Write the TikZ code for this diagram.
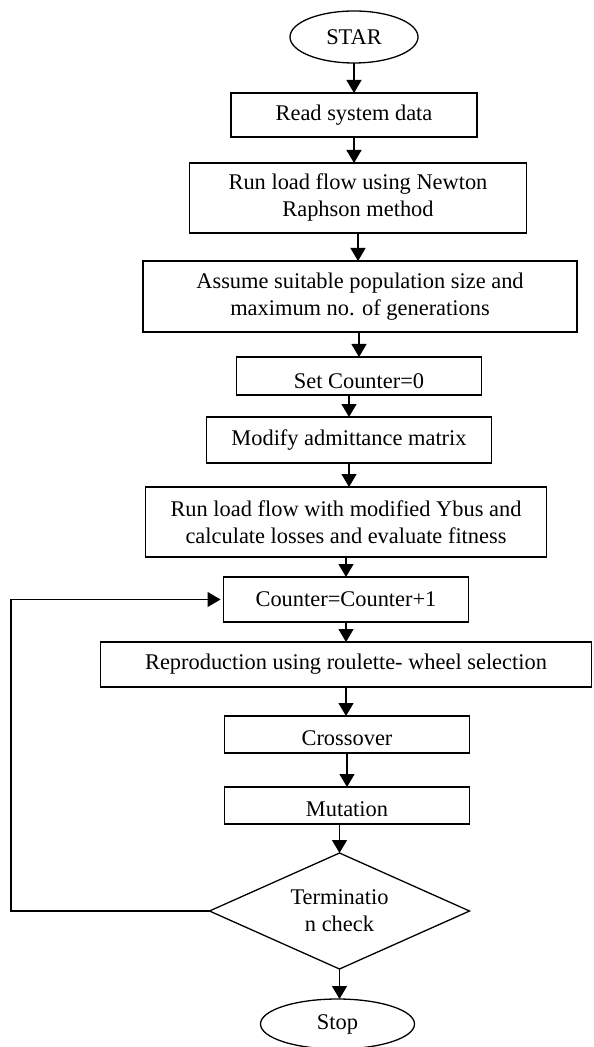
\documentclass[tikz,border=0pt]{standalone}
\usepackage{fontspec}
\setmainfont{Liberation Serif}
\usetikzlibrary{positioning, arrows.meta, shapes.geometric}

\begin{document}
\begin{tikzpicture}[
  node distance=13pt,
  box/.style={draw, line width=0.65pt, inner sep=1pt, outer sep=0pt, minimum width=122.5pt, minimum height=22.5pt, align=center, font=\fontsize{11.2}{13.5}\selectfont},
  term/.style={box, ellipse, minimum width=64pt, minimum height=26pt},
  check/.style={box, diamond, aspect=2.2, inner sep=0pt, minimum width=130pt, minimum height=58pt},
  arr/.style={-{Triangle[length=6.5pt, width=7.5pt]}, line width=0.65pt}
]
\useasboundingbox (0,0) rectangle (296.5pt,-523.5pt);
\node[term] (star) at (177pt,-18.5pt) {STAR};
\node[box, below=15pt of star, minimum width=123pt, minimum height=22pt] (read) {Read system data};
\node[box, below=13pt of read, xshift=2pt, minimum width=168.5pt, minimum height=35pt] (nr) {Run load flow using Newton\\Raphson method};
\node[box, below=14pt of nr, xshift=1pt, minimum width=217pt, minimum height=35.5pt] (pop) {Assume suitable population size and\\maximum no. of generations};
\node[box, below=12.5pt of pop, xshift=-0.5pt, minimum height=19pt] (set) {\raisebox{-2.5pt}[\height][\depth]{Set Counter=0}};
\node[box, below=11pt of set, xshift=-5pt, minimum width=142.5pt, minimum height=23pt] (ybus) {Modify admittance matrix};
\node[box, below=12pt of ybus, xshift=-1.5pt, minimum width=200.5pt, minimum height=35pt] (fit) {Run load flow with modified Ybus and\\calculate losses and evaluate fitness};
\node[box, below=10pt of fit] (cnt) {Counter=Counter+1};
\node[box, below=10pt of cnt, minimum width=245.5pt] (rep) {Reproduction using roulette- wheel selection};
\node[box, below=14.5pt of rep, xshift=0.5pt, minimum height=18.5pt] (cross) {\raisebox{-2pt}[\height][\depth]{Crossover}};
\node[box, below=17pt of cross, minimum height=18.5pt] (mut) {\raisebox{-2pt}[\height][\depth]{Mutation}};
\node[check, below=14.5pt of mut, xshift=-3.75pt] (chk) {Terminatio\\n check};
\node[term, below=15pt of chk, xshift=-1pt, minimum width=77pt, minimum height=25pt] (stop) {Stop};
\coordinate (back) at (5.5pt,0);

\draw[arr] (star) -- (star |- read.north);
\draw[arr] (read) -- (read |- nr.north);
\draw[arr] (nr) -- (nr |- pop.north);
\draw[arr] (set.north |- pop.south) -- (set.north);
\draw[arr] (ybus.north |- set.south) -- (ybus.north);
\draw[arr] (ybus) -- (ybus |- fit.north);
\draw[arr] (fit) -- (fit |- cnt.north);
\draw[arr] (cnt) -- (cnt |- rep.north);
\draw[arr] (rep) -- (rep |- cross.north);
\draw[arr] (cross) -- (cross |- mut.north);
\draw[arr] (chk.north |- mut.south) -- (chk.north);
\draw[arr] (chk) -- (chk |- stop.north);
\draw[arr] (chk.west) -- (chk.west -| back) |- ([xshift=-1.5pt]cnt.west);
\end{tikzpicture}
\end{document}
